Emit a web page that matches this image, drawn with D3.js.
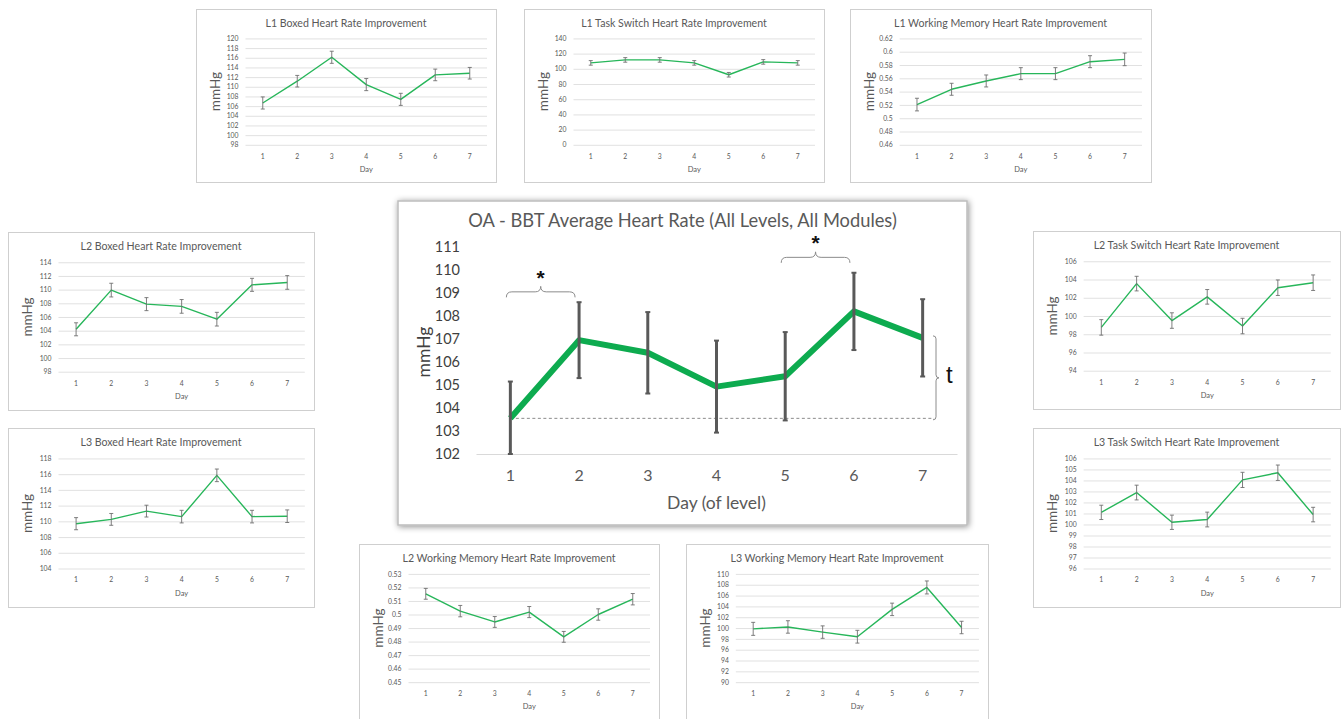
<!DOCTYPE html>
<html>
<head>
<meta charset="utf-8">
<script src="https://cdn.jsdelivr.net/npm/d3@7"></script>
<style>
  html, body { margin: 0; padding: 0; background: #ffffff; }
  svg { display: block; font-family: Lato, "Open Sans", sans-serif; }
</style>
</head>
<body>
<svg id="chart" width="1341" height="719"></svg>
<script>
// ---- Data ----------------------------------------------------------------
const days = [1, 2, 3, 4, 5, 6, 7];

// Overall average (all levels, all modules)
const avgHeartRate    = [103.55, 106.95, 106.4, 104.93, 105.38, 108.2, 107.05];
const avgHeartRateErr = [1.6, 1.65, 1.77, 2.0, 1.92, 1.68, 1.68];
const avgTicks = ["102", "103", "104", "105", "106", "107", "108", "109", "110", "111"];

// Level / module breakdowns
const l1BoxedValues = [106.65, 111.15, 116.1, 110.45, 107.4, 112.45, 112.8];
const l1BoxedErr    = [1.25, 1.2, 1.25, 1.25, 1.25, 1.2, 1.2];
const l1BoxedTicks  = ["98", "100", "102", "104", "106", "108", "110", "112", "114", "116", "118", "120"];

const l1TaskSwitchValues = [107.8, 111.7, 111.7, 107.8, 92.2, 109.1, 107.8];
const l1TaskSwitchErr    = [3, 3, 3, 3, 3, 3, 3];
const l1TaskSwitchTicks  = ["0", "20", "40", "60", "80", "100", "120", "140"];

const l1WorkingMemoryValues = [0.5205, 0.5435, 0.556, 0.567, 0.567, 0.585, 0.5885];
const l1WorkingMemoryErr    = [0.0095, 0.009, 0.009, 0.009, 0.009, 0.009, 0.0095];
const l1WorkingMemoryTicks  = ["0.46", "0.48", "0.5", "0.52", "0.54", "0.56", "0.58", "0.6", "0.62"];

const l2BoxedValues = [104.2, 109.93, 107.88, 107.55, 105.68, 110.7, 111.05];
const l2BoxedErr    = [0.95, 1.0, 0.95, 1.0, 1.0, 0.95, 1.0];
const l2BoxedTicks  = ["98", "100", "102", "104", "106", "108", "110", "112", "114"];

const l3BoxedValues = [109.7, 110.25, 111.3, 110.6, 115.85, 110.6, 110.65];
const l3BoxedErr    = [0.77, 0.75, 0.75, 0.8, 0.8, 0.8, 0.8];
const l3BoxedTicks  = ["104", "106", "108", "110", "112", "114", "116", "118"];

const l2TaskSwitchValues = [98.75, 103.55, 99.5, 102.1, 98.9, 103.1, 103.65];
const l2TaskSwitchErr    = [0.85, 0.8, 0.85, 0.8, 0.85, 0.85, 0.85];
const l2TaskSwitchTicks  = ["94", "96", "98", "100", "102", "104", "106"];

const l3TaskSwitchValues = [101.1, 102.9, 100.2, 100.45, 104.05, 104.7, 100.9];
const l3TaskSwitchErr    = [0.65, 0.67, 0.65, 0.67, 0.69, 0.7, 0.66];
const l3TaskSwitchTicks  = ["96", "97", "98", "99", "100", "101", "102", "103", "104", "105", "106"];

const l2WorkingMemoryValues = [0.5153, 0.5025, 0.4945, 0.5018, 0.4835, 0.5, 0.5113];
const l2WorkingMemoryErr    = [0.004, 0.0042, 0.004, 0.0041, 0.004, 0.0042, 0.0042];
const l2WorkingMemoryTicks  = ["0.45", "0.46", "0.47", "0.48", "0.49", "0.5", "0.51", "0.52", "0.53"];

const l3WorkingMemoryValues = [99.85, 100.2, 99.25, 98.4, 103.45, 107.5, 100.1];
const l3WorkingMemoryErr    = [1.2, 1.15, 1.15, 1.18, 1.15, 1.2, 1.15];
const l3WorkingMemoryTicks  = ["90", "92", "94", "96", "98", "100", "102", "104", "106", "108", "110"];

// ---- Styling ---------------------------------------------------------------
const GREEN_MAIN = "#0dab4f";
const GREEN_SMALL = "#27b65a";
const TEXT_GRAY = "#595959";
const GRID_GRAY = "#d9d9d9";

const svg = d3.select("#chart");

const defs = svg.append("defs");
const shadow = defs.append("filter").attr("id", "boxShadow")
  .attr("x", "-5%").attr("y", "-5%").attr("width", "110%").attr("height", "110%");
shadow.append("feDropShadow")
  .attr("dx", 1).attr("dy", 1).attr("stdDeviation", 3)
  .attr("flood-color", "#000").attr("flood-opacity", 0.45);

// ---- Small multiples --------------------------------------------------------
const panels = [
  { title: "L1 Boxed Heart Rate Improvement", values: l1BoxedValues, err: l1BoxedErr, ticks: l1BoxedTicks, box: [196, 9, 300, 173] },
  { title: "L1 Task Switch Heart Rate Improvement", values: l1TaskSwitchValues, err: l1TaskSwitchErr, ticks: l1TaskSwitchTicks, box: [524, 9, 300, 173] },
  { title: "L1 Working Memory Heart Rate Improvement", values: l1WorkingMemoryValues, err: l1WorkingMemoryErr, ticks: l1WorkingMemoryTicks, box: [850, 9, 301, 173] },
  { title: "L2 Boxed Heart Rate Improvement", values: l2BoxedValues, err: l2BoxedErr, ticks: l2BoxedTicks, box: [8, 232, 306, 178] },
  { title: "L3 Boxed Heart Rate Improvement", values: l3BoxedValues, err: l3BoxedErr, ticks: l3BoxedTicks, box: [8, 428, 306, 179] },
  { title: "L2 Task Switch Heart Rate Improvement", values: l2TaskSwitchValues, err: l2TaskSwitchErr, ticks: l2TaskSwitchTicks, box: [1033, 231, 307, 178] },
  { title: "L3 Task Switch Heart Rate Improvement", values: l3TaskSwitchValues, err: l3TaskSwitchErr, ticks: l3TaskSwitchTicks, box: [1033, 428, 307, 179] },
  { title: "L2 Working Memory Heart Rate Improvement", values: l2WorkingMemoryValues, err: l2WorkingMemoryErr, ticks: l2WorkingMemoryTicks, box: [359, 544, 300, 176] },
  { title: "L3 Working Memory Heart Rate Improvement", values: l3WorkingMemoryValues, err: l3WorkingMemoryErr, ticks: l3WorkingMemoryTicks, box: [686, 544, 302, 176] }
];

function drawPanel(p) {
  const [x0, y0, w, h] = p.box;
  const g = svg.append("g");
  const left = x0 + 0.165 * w, right = x0 + 0.97 * w;
  const top = y0 + 0.17 * h, bottom = y0 + 0.785 * h;

  g.append("rect").attr("x", x0 + 0.5).attr("y", y0 + 0.5)
    .attr("width", w).attr("height", h)
    .attr("fill", "#fff").attr("stroke", "#cfcfcf").attr("stroke-width", 1);

  g.append("text").attr("x", x0 + w / 2).attr("y", y0 + 17.5)
    .attr("text-anchor", "middle").attr("font-size", 10.6).attr("fill", TEXT_GRAY)
    .text(p.title);

  const tickVals = p.ticks.map(Number);
  const x = d3.scaleBand().domain(days).range([left, right]);
  const y = d3.scaleLinear().domain([tickVals[0], tickVals[tickVals.length - 1]]).range([bottom, top]);
  const cx = d => x(d) + x.bandwidth() / 2;

  // gridlines + tick labels
  const yAxis = g.append("g").attr("transform", `translate(${left},0)`)
    .call(d3.axisLeft(y).tickValues(tickVals).tickSize(-(right - left)).tickPadding(7)
      .tickFormat((d, i) => p.ticks[i]));
  yAxis.select(".domain").remove();
  yAxis.selectAll("line").attr("stroke", GRID_GRAY).attr("stroke-width", 0.8);
  yAxis.selectAll("text").attr("font-size", 6.8).attr("fill", TEXT_GRAY).attr("font-family", "Lato");

  const xAxis = g.append("g").attr("transform", `translate(0,${bottom})`)
    .call(d3.axisBottom(x).tickSize(0).tickPadding(9));
  xAxis.select(".domain").remove();
  xAxis.selectAll("text").attr("font-size", 6.8).attr("fill", TEXT_GRAY).attr("font-family", "Lato");

  g.append("text").attr("x", (left + right) / 2).attr("y", bottom + 27)
    .attr("text-anchor", "middle").attr("font-size", 7.5).attr("fill", TEXT_GRAY).text("Day");

  g.append("text")
    .attr("transform", `translate(${x0 + 19},${(top + bottom) / 2}) rotate(-90)`)
    .attr("text-anchor", "middle").attr("dy", "0.35em")
    .attr("font-size", 13.5).attr("fill", TEXT_GRAY).text("mmHg");

  const rows = days.map((d, i) => ({ d, v: p.values[i], e: p.err[i] }));

  g.append("path").datum(rows)
    .attr("fill", "none").attr("stroke", GREEN_SMALL).attr("stroke-width", 1.4)
    .attr("stroke-linejoin", "round")
    .attr("d", d3.line().x(r => cx(r.d)).y(r => y(r.v)));

  const eb = g.selectAll(".eb").data(rows).enter().append("g").attr("class", "eb")
    .attr("stroke", "#6f6f6f").attr("stroke-width", 0.9);
  eb.append("line").attr("x1", r => cx(r.d)).attr("x2", r => cx(r.d))
    .attr("y1", r => y(r.v - r.e)).attr("y2", r => y(r.v + r.e));
  eb.append("line").attr("x1", r => cx(r.d) - 2).attr("x2", r => cx(r.d) + 2)
    .attr("y1", r => y(r.v + r.e)).attr("y2", r => y(r.v + r.e));
  eb.append("line").attr("x1", r => cx(r.d) - 2).attr("x2", r => cx(r.d) + 2)
    .attr("y1", r => y(r.v - r.e)).attr("y2", r => y(r.v - r.e));
}

panels.forEach(drawPanel);

// ---- Main chart: overall average ---------------------------------------------
(function drawMain() {
  const box = { x: 398, y: 201, w: 569, h: 324 };
  const g = svg.append("g");
  g.append("rect").attr("x", box.x).attr("y", box.y).attr("width", box.w).attr("height", box.h)
    .attr("fill", "#fff").attr("stroke", "#bdbdbd").attr("stroke-width", 1.5)
    .attr("filter", "url(#boxShadow)");

  g.append("text").attr("x", box.x + box.w / 2).attr("y", 226.5)
    .attr("text-anchor", "middle").attr("font-size", 18.3).attr("fill", TEXT_GRAY)
    .text("OA - BBT Average Heart Rate (All Levels, All Modules)");

  const left = 476, right = 957, top = 247, bottom = 454;
  const tickVals = avgTicks.map(Number);
  const x = d3.scaleBand().domain(days).range([left, right]);
  const y = d3.scaleLinear().domain([tickVals[0], tickVals[tickVals.length - 1]]).range([bottom, top]);
  const cx = d => x(d) + x.bandwidth() / 2;

  const yAxis = g.append("g").attr("transform", `translate(${left},0)`)
    .call(d3.axisLeft(y).tickValues(tickVals).tickSize(0).tickPadding(16)
      .tickFormat((d, i) => avgTicks[i]));
  yAxis.select(".domain").remove();
  yAxis.selectAll("text").attr("font-size", 14.5).attr("fill", "#404040").attr("font-family", "Lato");

  const xAxis = g.append("g").attr("transform", `translate(0,${bottom})`)
    .call(d3.axisBottom(x).tickSize(0).tickPadding(16));
  xAxis.select(".domain").attr("stroke", GRID_GRAY).attr("stroke-width", 1);
  xAxis.selectAll("text").attr("font-size", 16).attr("fill", TEXT_GRAY).attr("font-family", "Lato");

  g.append("text").attr("x", (left + right) / 2).attr("y", 509)
    .attr("text-anchor", "middle").attr("font-size", 17.5).attr("fill", TEXT_GRAY)
    .text("Day (of level)");

  g.append("text")
    .attr("transform", `translate(424,352) rotate(-90)`)
    .attr("text-anchor", "middle").attr("dy", "0.35em")
    .attr("font-size", 17.5).attr("fill", "#404040").text("mmHg");

  const rows = days.map((d, i) => ({ d, v: avgHeartRate[i], e: avgHeartRateErr[i] }));
  const clampV = v => Math.max(tickVals[0], v);

  // baseline reference from day 1
  const baseY = y(avgHeartRate[0]);
  g.append("line").attr("x1", cx(days[0])).attr("x2", 934)
    .attr("y1", baseY).attr("y2", baseY)
    .attr("stroke", "#7f7f7f").attr("stroke-width", 0.9).attr("stroke-dasharray", "3,2.5");

  g.append("path").datum(rows)
    .attr("fill", "none").attr("stroke", GREEN_MAIN).attr("stroke-width", 6)
    .attr("stroke-linejoin", "round")
    .attr("d", d3.line().x(r => cx(r.d)).y(r => y(r.v)));

  const eb = g.selectAll(".meb").data(rows).enter().append("g").attr("class", "meb")
    .attr("stroke", "#595959");
  eb.append("line").attr("stroke-width", 3)
    .attr("x1", r => cx(r.d)).attr("x2", r => cx(r.d))
    .attr("y1", r => y(clampV(r.v - r.e))).attr("y2", r => y(r.v + r.e));
  eb.append("line").attr("stroke-width", 2)
    .attr("x1", r => cx(r.d) - 2.5).attr("x2", r => cx(r.d) + 2.5)
    .attr("y1", r => y(r.v + r.e)).attr("y2", r => y(r.v + r.e));
  eb.append("line").attr("stroke-width", 2)
    .attr("x1", r => cx(r.d) - 2.5).attr("x2", r => cx(r.d) + 2.5)
    .attr("y1", r => y(clampV(r.v - r.e))).attr("y2", r => y(clampV(r.v - r.e)));

  // significance braces between consecutive days
  const sigPairs = [
    { from: 1, to: 2, level: 109.05, starLevel: 109.9 },
    { from: 5, to: 6, level: 110.55, starLevel: 111.4 }
  ];
  function hBrace(x1, x2, yy, hgt) {
    const xm = (x1 + x2) / 2;
    const p = d3.path();
    p.moveTo(x1, yy + hgt);
    p.quadraticCurveTo(x1, yy, x1 + hgt, yy);
    p.lineTo(xm - hgt, yy);
    p.quadraticCurveTo(xm, yy, xm, yy - hgt);
    p.quadraticCurveTo(xm, yy, xm + hgt, yy);
    p.lineTo(x2 - hgt, yy);
    p.quadraticCurveTo(x2, yy, x2, yy + hgt);
    return p.toString();
  }
  sigPairs.forEach(s => {
    const x1 = cx(s.from) - 4, x2 = cx(s.to) - 4;
    g.append("path").attr("d", hBrace(x1, x2, y(s.level), 5.5))
      .attr("fill", "none").attr("stroke", "#8c8c8c").attr("stroke-width", 1);
    g.append("text").attr("x", (x1 + x2) / 2).attr("y", y(s.starLevel) + 12.5)
      .attr("text-anchor", "middle").attr("font-size", 21).attr("font-weight", "bold")
      .attr("font-family", "Liberation Sans, Arial, sans-serif").attr("fill", "#111").text("*");
  });

  // trend brace from day-1 baseline to day-7 value
  const bx = 933, yTop = y(avgHeartRate[6]) - 2, yBot = baseY + 1.5, bh = 3;
  const ym = (yTop + yBot) / 2;
  const vp = d3.path();
  vp.moveTo(bx, yTop);
  vp.quadraticCurveTo(bx + bh, yTop, bx + bh, yTop + bh);
  vp.lineTo(bx + bh, ym - bh);
  vp.quadraticCurveTo(bx + bh, ym, bx + 2 * bh, ym);
  vp.quadraticCurveTo(bx + bh, ym, bx + bh, ym + bh);
  vp.lineTo(bx + bh, yBot - bh);
  vp.quadraticCurveTo(bx + bh, yBot, bx, yBot);
  g.append("path").attr("d", vp.toString())
    .attr("fill", "none").attr("stroke", "#8c8c8c").attr("stroke-width", 1);
  g.append("text").attr("x", 946).attr("y", ym + 5)
    .attr("font-size", 24).attr("font-family", "Liberation Sans, Arial, sans-serif")
    .attr("fill", "#111").text("t");
})();
</script>
</body>
</html>
